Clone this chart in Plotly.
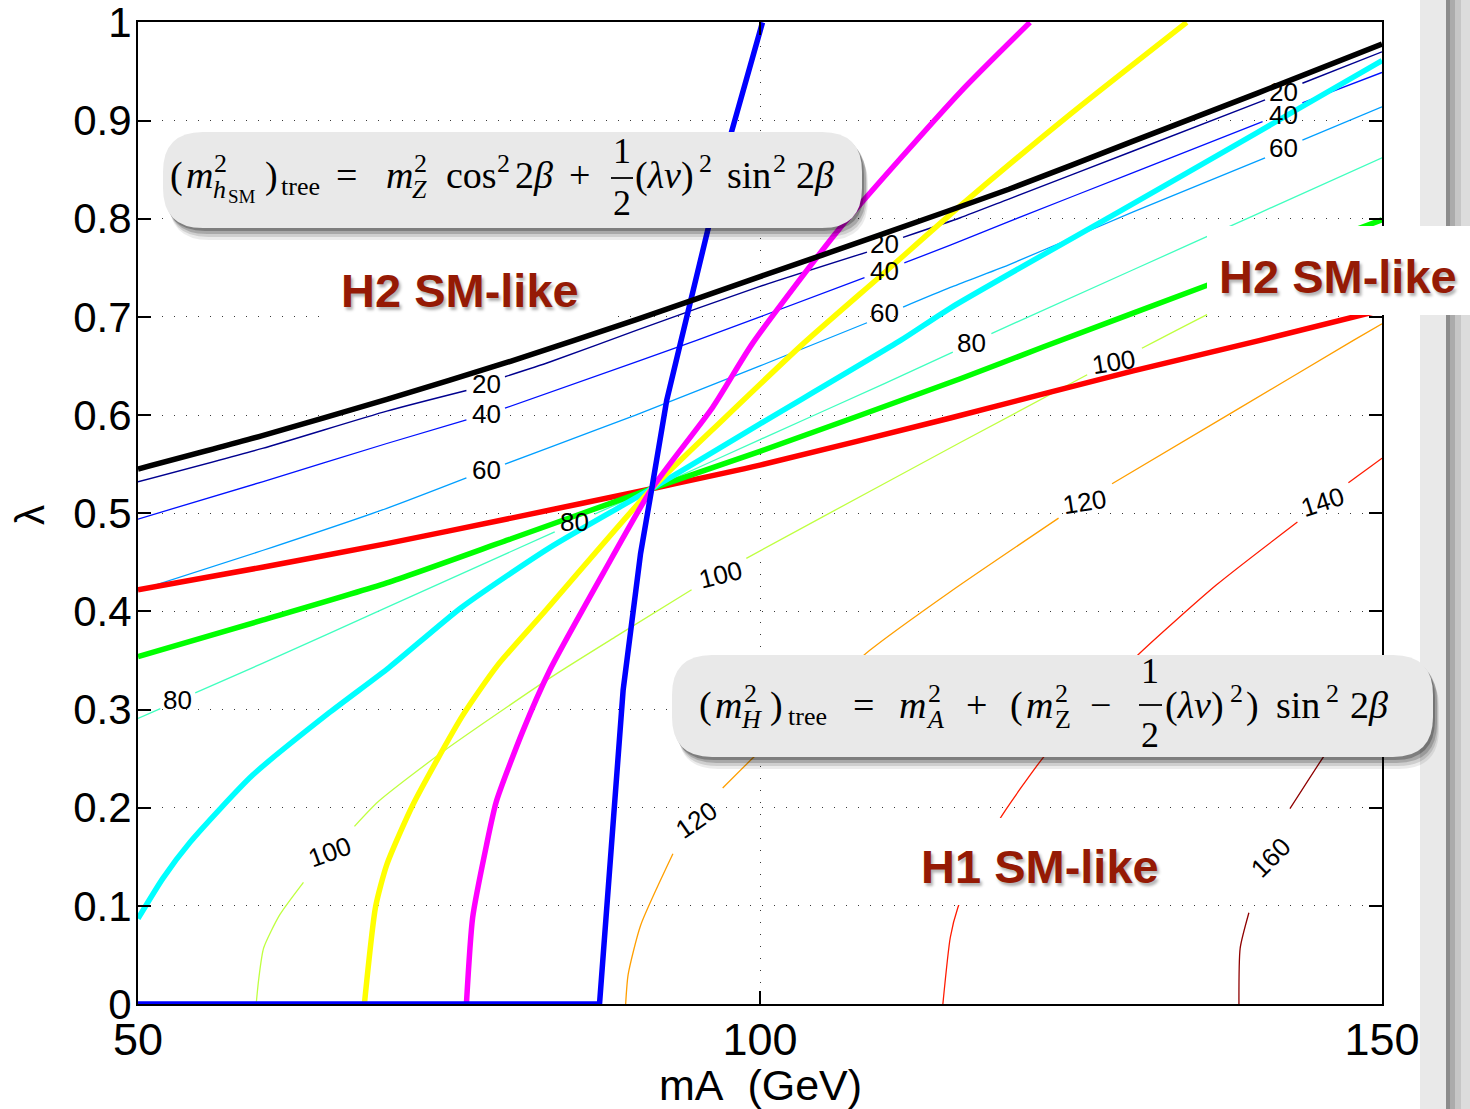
import plotly.graph_objects as go

# ------------------------------------------------------------------ data
# Thin iso-mass contours (GeV) in the (mA, lambda) plane.
# None leaves the gap in which the contour label is written.
C20_MA = [50, 60, 70, 76.4, None, 79.5, 83.1, 90, 100, 108.6, None, 111.5, 116.1, 120, 130, 140.6, None, 143.6, 150]
C20_LAM = [0.532, 0.566, 0.604, 0.625, None, 0.639, 0.654, 0.686, 0.731, 0.766, None, 0.781, 0.801, 0.820, 0.869, 0.921, None, 0.938, 0.970]

C40_MA = [50, 60, 70, 76.4, None, 79.5, 90, 94.9, 100, 108.4, None, 111.6, 115.3, 120, 130, 140.4, None, 143.6, 150]
C40_LAM = [0.494, 0.532, 0.571, 0.595, None, 0.607, 0.654, 0.676, 0.700, 0.740, None, 0.755, 0.773, 0.797, 0.847, 0.899, None, 0.918, 0.949]

C60_MA = [50, 60, 70, 76.4, None, 79.5, 83.1, 90, 100, 108.6, None, 111.5, 115.3, 120, 130, 140.6, None, 143.6, 150]
C60_LAM = [0.421, 0.462, 0.505, 0.536, None, 0.550, 0.567, 0.600, 0.650, 0.694, None, 0.710, 0.730, 0.753, 0.807, 0.862, None, 0.880, 0.914]

C80_MA = [50, 51.8, None, 54.6, 60, 70, 83.5, None, 86.7, 91.3, 100, 110, 115.5, None, 118.6, 130, 140, 150]
C80_LAM = [0.291, 0.301, None, 0.317, 0.347, 0.404, 0.481, None, 0.499, 0.525, 0.575, 0.632, 0.664, None, 0.683, 0.748, 0.805, 0.862]

C100_MA = [59.5, 59.7, 60.1, 61.4, 63.3, None, 67.4, 69.3, 74.5, 83.1, 88.5, 94.5, None, 98.9, 105, 116.1, 126.3, None, 130.7, 135.9, 143, 150]
C100_LAM = [0.0, 0.025, 0.057, 0.091, 0.124, None, 0.181, 0.206, 0.257, 0.332, 0.375, 0.422, None, 0.454, 0.496, 0.572, 0.641, None, 0.668, 0.702, 0.745, 0.789]

C120_MA = [89.2, 89.4, 90.4, 93.0, None, 97.0, 99.3, 104, 108.8, 115.3, 124.0, None, 128.3, 138, 147.7, 150]
C120_LAM = [0.0, 0.030, 0.080, 0.153, None, 0.220, 0.249, 0.305, 0.360, 0.420, 0.495, None, 0.530, 0.603, 0.676, 0.693]

C140_MA = [114.7, 115.3, 115.9, 117.3, 119.3, 122.7, 126.5, 130.5, 136.7, 143.2, None, 147.3, 150]
C140_LAM = [0.0, 0.068, 0.098, 0.140, 0.189, 0.250, 0.305, 0.357, 0.427, 0.491, None, 0.531, 0.556]

C160_MA = [138.5, 138.6, 139.3, None, 142.6, 145.2, 150]
C160_LAM = [0.0, 0.057, 0.093, None, 0.199, 0.250, 0.340]

# Contour labels: text, mA, lambda, rotation (deg)
LABEL_TEXT = ["20", "20", "20", "40", "40", "40", "60", "60", "60", "80", "80", "80",
              "100", "100", "100", "120", "120", "140", "160"]
LABEL_MA = [78.05, 110.0, 142.1, 78.05, 110.0, 142.1, 78.05, 110.0, 142.1, 53.2, 85.1, 117.0,
            65.4, 96.8, 128.4, 94.9, 126.1, 145.2, 141.0]
LABEL_LAM = [0.632, 0.774, 0.929, 0.601, 0.747, 0.906, 0.544, 0.704, 0.872, 0.310, 0.491, 0.673,
             0.155, 0.437, 0.654, 0.187, 0.511, 0.511, 0.149]
LABEL_ANGLE = [0, 0, 0, 0, 0, 0, 0, 0, 0, 0, 0, 0, -20, -14, -9, -35, -9, -18, -45]

# Thick curves
BLACK_MA = [50, 60, 70, 80, 90, 100, 110, 120, 130, 140, 150]
BLACK_LAM = [0.545, 0.579, 0.616, 0.655, 0.697, 0.741, 0.785, 0.830, 0.879, 0.928, 0.978]

RED_MA = [50, 60, 70, 80, 91.3, 100, 115.3, 130, 140.2, 150]
RED_LAM = [0.422, 0.445, 0.469, 0.495, 0.525, 0.549, 0.597, 0.645, 0.676, 0.707]

GREEN_MA = [50, 60, 70, 80, 91.3, 100, 116.1, 122.7, 135.9, 150]
GREEN_LAM = [0.354, 0.391, 0.429, 0.474, 0.525, 0.563, 0.637, 0.669, 0.732, 0.799]

CYAN_MA = [50, 52.0, 54.2, 59.2, 65.4, 70.2, 76, 83.1, 91.3, 100, 111.3, 115.3, 128.7, 140, 150]
CYAN_LAM = [0.087, 0.128, 0.165, 0.233, 0.297, 0.343, 0.404, 0.465, 0.525, 0.591, 0.676, 0.709, 0.806, 0.888, 0.961]

YELLOW_MA = [68.2, 69.1, 70.0, 72.1, 76.1, 78.9, 82.5, 91.3, 97.0, 103.5, 110, 116, 125, 134.3]
YELLOW_LAM = [0.0, 0.099, 0.142, 0.203, 0.294, 0.345, 0.397, 0.525, 0.595, 0.673, 0.745, 0.812, 0.907, 1.0]

MAGENTA_MA = [76.4, 76.9, 78.0, 78.8, 80.9, 83.1, 87.4, 91.3, 96.2, 99.4, 106.4, 116.1, 121.7]
MAGENTA_LAM = [0.0, 0.088, 0.161, 0.206, 0.277, 0.340, 0.439, 0.525, 0.608, 0.673, 0.790, 0.929, 1.0]

BLUE_MA = [50, 87.1, 89.0, 90.4, 91.3, 92.5, 93.6, 95.7, 97.7, 100.2]
BLUE_LAM = [0.0, 0.0, 0.32, 0.459, 0.525, 0.615, 0.673, 0.786, 0.888, 1.0]

X_TICKS = [50, 100, 150]
Y_TICKS = [0, 0.1, 0.2, 0.3, 0.4, 0.5, 0.6, 0.7, 0.8, 0.9, 1]
Y_TICK_TEXT = ["0", "0.1", "0.2", "0.3", "0.4", "0.5", "0.6", "0.7", "0.8", "0.9", "1"]

# ------------------------------------------------------------------ page geometry
W, H = 1470, 1109
ML, MR, MT, MB = 138, 88, 22, 105
PW, PH = W - ML - MR, H - MT - MB
SANS = "Liberation Sans"
SERIF = "Liberation Serif"
DARK_RED = "#951a05"


def fx(xp):
    return (xp - ML) / PW


def fy(yp):
    return (H - MB - yp) / PH


fig = go.Figure()

contours = [
    (C20_MA, C20_LAM, "#00008f", 1.4),
    (C40_MA, C40_LAM, "#0010ff", 1.3),
    (C60_MA, C60_LAM, "#009fff", 1.3),
    (C80_MA, C80_LAM, "#40ffbf", 1.3),
    (C100_MA, C100_LAM, "#bfff40", 1.3),
    (C120_MA, C120_LAM, "#ff9f00", 1.3),
    (C140_MA, C140_LAM, "#ff1a00", 1.3),
    (C160_MA, C160_LAM, "#8f0000", 1.3),
]
for xs, ys, col, w in contours:
    fig.add_trace(go.Scatter(x=xs, y=ys, mode="lines", connectgaps=False,
                             line=dict(color=col, width=w, shape="spline", smoothing=0.6),
                             hoverinfo="skip", showlegend=False))

thick = [
    (RED_MA, RED_LAM, "#ff0000", "spline"),
    (GREEN_MA, GREEN_LAM, "#00ff00", "spline"),
    (CYAN_MA, CYAN_LAM, "#00ffff", "spline"),
    (YELLOW_MA, YELLOW_LAM, "#ffff00", "spline"),
    (MAGENTA_MA, MAGENTA_LAM, "#ff00ff", "spline"),
    (BLUE_MA, BLUE_LAM, "#0000ff", "linear"),
    (BLACK_MA, BLACK_LAM, "#000000", "spline"),
]
for xs, ys, col, shp in thick:
    fig.add_trace(go.Scatter(x=xs, y=ys, mode="lines",
                             line=dict(color=col, width=5.5, shape=shp, smoothing=0.6),
                             hoverinfo="skip", showlegend=False))

annotations = []
shapes = []

# contour labels
for t, xa, ya, ang in zip(LABEL_TEXT, LABEL_MA, LABEL_LAM, LABEL_ANGLE):
    annotations.append(dict(text=t, x=xa, y=ya, xref="x", yref="y", showarrow=False,
                            textangle=ang, font=dict(family=SANS, size=26, color="black"),
                            borderpad=0, borderwidth=0))


def rr_path(x0, y0, x1, y1, r):
    """Rounded rectangle in pixel coordinates -> SVG path in paper coordinates."""
    def p(a, b):
        return f"{fx(a):.5f},{fy(b):.5f}"
    return (f"M{p(x0 + r, y0)} L{p(x1 - r, y0)} Q{p(x1, y0)} {p(x1, y0 + r)} "
            f"L{p(x1, y1 - r)} Q{p(x1, y1)} {p(x1 - r, y1)} L{p(x0 + r, y1)} "
            f"Q{p(x0, y1)} {p(x0, y1 - r)} L{p(x0, y0 + r)} Q{p(x0, y0)} {p(x0 + r, y0)} Z")


def rect(x0, y0, x1, y1, fill):
    shapes.append(dict(type="rect", xref="paper", yref="paper", layer="above",
                       x0=fx(x0), x1=fx(x1), y0=fy(y1), y1=fy(y0),
                       fillcolor=fill, line=dict(width=0)))


def callout(x0, y0, x1, y1, r=40):
    for dx, dy, op in [(6, 12, 0.08), (5, 9, 0.12), (4, 6, 0.18), (2, 3, 0.25)]:
        shapes.append(dict(type="path", xref="paper", yref="paper", layer="above",
                           path=rr_path(x0 + dx, y0 + dy, x1 + dx, y1 + dy, r),
                           fillcolor="black", opacity=op, line=dict(width=0)))
    shapes.append(dict(type="path", xref="paper", yref="paper", layer="above",
                       path=rr_path(x0, y0, x1, y1, r),
                       fillcolor="#e9e9e9", line=dict(width=0)))


def piece(txt, x_left, baseline, size=38, anchor="left"):
    yc = baseline - 0.34 * size
    annotations.append(dict(text=txt, x=fx(x_left), y=fy(yc), xref="paper", yref="paper",
                            xanchor=anchor, yanchor="middle", showarrow=False,
                            font=dict(family=SERIF, size=size, color="black"),
                            borderpad=0, borderwidth=0))


def frac_bar(x0, x1, yp):
    shapes.append(dict(type="line", xref="paper", yref="paper", layer="above",
                       x0=fx(x0), x1=fx(x1), y0=fy(yp), y1=fy(yp),
                       line=dict(color="black", width=1.8)))


# side frame of the slide
rect(1420, 0, 1447, H, "#e9e9e9")
rect(1446, 0, 1450, H, "#8c8c8c")
rect(1450, 0, 1455, H, "#ababab")
rect(1455, 0, 1461, H, "#c6c6c6")
rect(1461, 0, 1470, H, "#dcdcdc")

# white patches behind the region labels
rect(328, 243, 612, 325, "white")
rect(1207, 226, 1470, 315, "white")
rect(905, 818, 1205, 905, "white")

# formula call-outs
callout(163, 132, 862, 228)
callout(672, 655, 1433, 757)

SUP, SUB = 26, 26
# (m^2_{h_SM})_tree = m_Z^2 cos^2 2b + 1/2 (lambda v)^2 sin^2 2b
b1 = 188
piece("(", 170, b1)
piece("<i>m</i>", 186, b1)
piece("2", 214, b1 - 16, SUP)
piece("<i>h</i>", 213, b1 + 10, SUB)
piece("SM", 228, b1 + 15, 19)
piece(")", 265, b1)
piece("tree", 281, b1 + 7, SUB)
piece("=", 336, b1)
piece("<i>m</i>", 386, b1)
piece("2", 414, b1 - 16, SUP)
piece("<i>Z</i>", 412, b1 + 10, SUB)
piece("cos", 446, b1)
piece("2", 497, b1 - 16, SUP)
piece("2<i>β</i>", 515, b1)
piece("+", 569, b1)
piece("1", 622, 163, 36, "center")
frac_bar(611, 633, 178)
piece("2", 622, 215, 36, "center")
piece("(<i>λv</i>)", 635, b1)
piece("2", 699, b1 - 16, SUP)
piece("sin", 727, b1)
piece("2", 773, b1 - 16, SUP)
piece("2<i>β</i>", 796, b1)

# (m^2_H)_tree = m_A^2 + (m_Z^2 - 1/2 (lambda v)^2) sin^2 2b
b2 = 718
piece("(", 699, b2)
piece("<i>m</i>", 715, b2)
piece("2", 744, b2 - 16, SUP)
piece("<i>H</i>", 741, b2 + 10, SUB)
piece(")", 770, b2)
piece("tree", 788, b2 + 7, SUB)
piece("=", 853, b2)
piece("<i>m</i>", 899, b2)
piece("2", 928, b2 - 16, SUP)
piece("<i>A</i>", 926, b2 + 10, SUB)
piece("+", 966, b2)
piece("(", 1010, b2)
piece("<i>m</i>", 1026, b2)
piece("2", 1055, b2 - 16, SUP)
piece("Z", 1055, b2 + 10, SUB)
piece("−", 1090, b2)
piece("1", 1150, 683, 36, "center")
frac_bar(1139, 1162, 705)
piece("2", 1150, 747, 36, "center")
piece("(<i>λv</i>)", 1165, b2)
piece("2", 1230, b2 - 16, SUP)
piece(")", 1246, b2)
piece("sin", 1276, b2)
piece("2", 1326, b2 - 16, SUP)
piece("2<i>β</i>", 1350, b2)

# region labels with a soft drop shadow
for txt, cx, cy in [("H2 SM-like", 460, 290), ("H2 SM-like", 1338, 276), ("H1 SM-like", 1040, 866)]:
    annotations.append(dict(text=f"<b>{txt}</b>", x=fx(cx), y=fy(cy), xref="paper", yref="paper",
                            xanchor="center", yanchor="middle", showarrow=False,
                            font=dict(family=SANS, size=47, color=DARK_RED,
                                      shadow="2px 3px 3px rgba(0,0,0,0.3)")))

# axis titles
annotations.append(dict(text="mA\u00a0\u00a0(GeV)", x=fx(760), y=fy(1085), xref="paper", yref="paper",
                        xanchor="center", yanchor="middle", showarrow=False,
                        font=dict(family=SANS, size=43, color="black")))
annotations.append(dict(text="λ", x=fx(30), y=fy(515), xref="paper", yref="paper",
                        xanchor="center", yanchor="middle", showarrow=False, textangle=-90,
                        font=dict(family=SANS, size=40, color="black")))

axis_common = dict(ticks="inside", ticklen=13, tickwidth=1.6, tickcolor="black",
                   showline=True, linecolor="black", linewidth=2, mirror="ticks",
                   showgrid=True, gridcolor="#3a3a3a", gridwidth=1.3, griddash="1px,11px",
                   zeroline=False, ticklabeloverflow="allow")

fig.update_layout(
    width=W, height=H,
    margin=dict(l=ML, r=MR, t=MT, b=MB, autoexpand=False),
    paper_bgcolor="white", plot_bgcolor="white",
    showlegend=False,
    xaxis=dict(range=[50, 150], tickvals=X_TICKS, ticktext=[str(v) for v in X_TICKS],
               tickfont=dict(family=SANS, size=45, color="black"), ticklabelstandoff=-5,
               **axis_common),
    yaxis=dict(range=[0, 1.0004], tickvals=Y_TICKS, ticktext=Y_TICK_TEXT,
               tickfont=dict(family=SANS, size=42, color="black"), ticklabelstandoff=-4,
               **axis_common),
    annotations=annotations,
    shapes=shapes,
)

fig.write_html("out.html")
